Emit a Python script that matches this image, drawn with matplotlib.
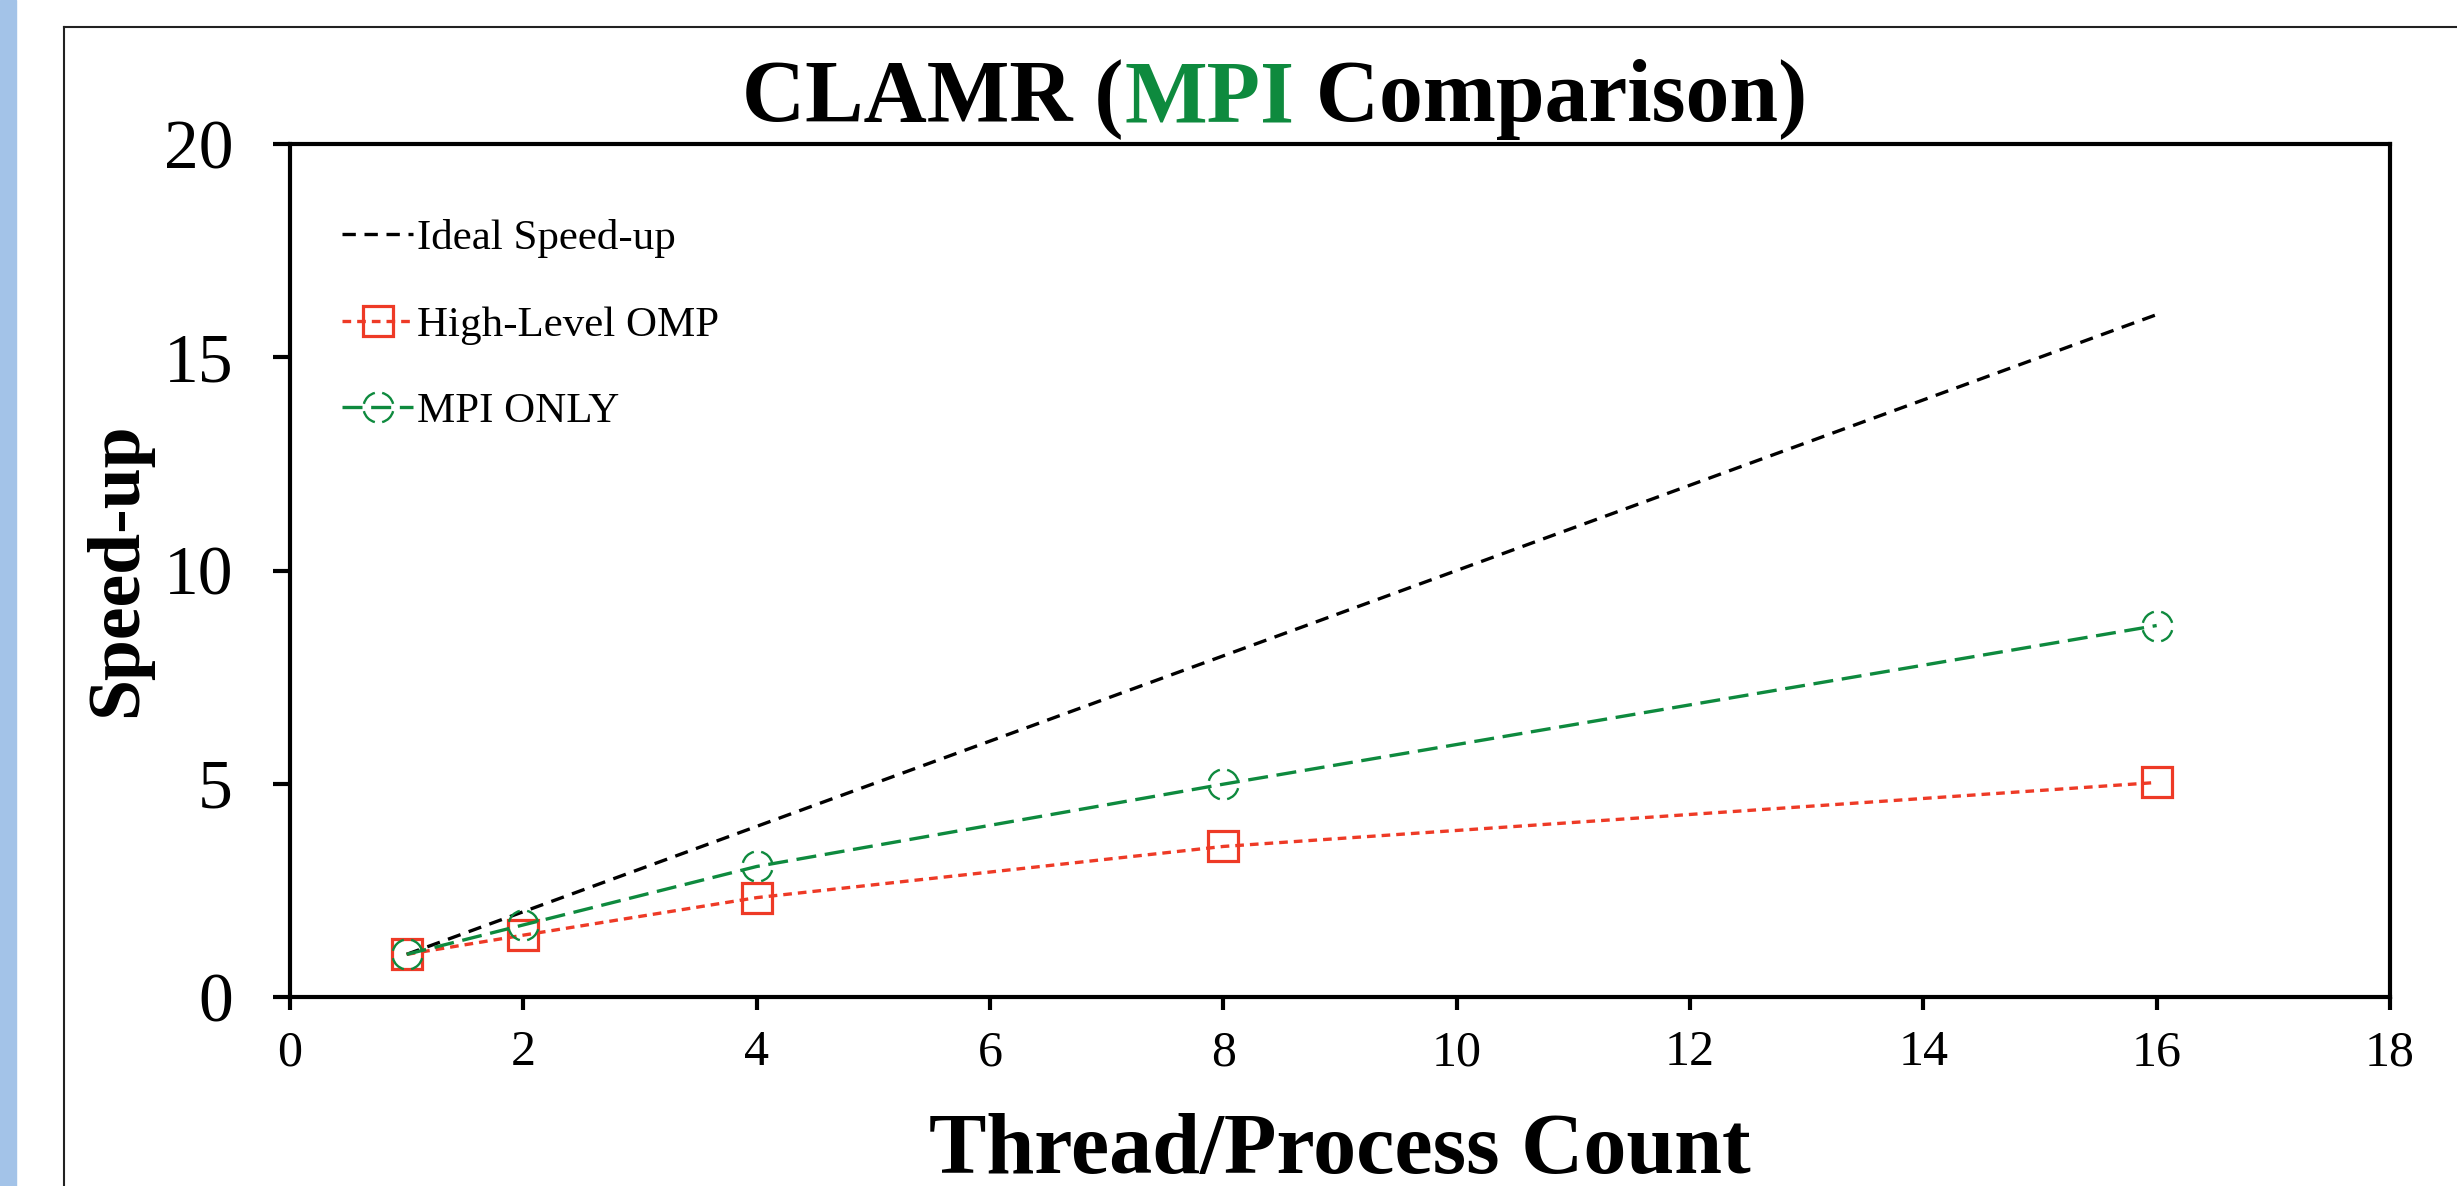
import numpy as np
import matplotlib
matplotlib.use('Agg')
import matplotlib.pyplot as plt
from matplotlib.path import Path
from matplotlib.patches import Rectangle
from matplotlib.lines import Line2D

# data
threads = [1, 2, 4, 8, 16]
ideal = [1, 2, 4, 8, 16]
omp_speedup = [1.0, 1.45, 2.33, 3.53, 5.03]
mpi_speedup = [1.0, 1.69, 3.06, 4.99, 8.71]
labels = ['Ideal Speed-up', 'High-Level OMP', 'MPI ONLY']

RED = '#ee3a26'
GREEN = '#0e8a3e'

plt.rcParams['font.family'] = ['Liberation Serif', 'DejaVu Serif']

W, H = 2457, 1186
fig = plt.figure(figsize=(W / 100, H / 100), dpi=100)

# axes box in pixels: left 290, right 2390, top 144, bottom 997
ax = fig.add_axes([290 / W, 1 - 997 / H, 2100 / W, 853 / H])

# dashed-outline circle marker (Excel style)
arcs = [Path.arc(a, a + 62) for a in (14, 104, 194, 284)]
dash_circle = Path.make_compound_path(*arcs)

ax.plot(threads, ideal, color='black', lw=2.4, dashes=(4, 2.6),
        label=labels[0], zorder=3)
ax.plot(threads, omp_speedup, color=RED, lw=2.4, dashes=(2.6, 1.8),
        marker='s', markersize=21, markerfacecolor='none',
        markeredgecolor=RED, markeredgewidth=2.3, label=labels[1], zorder=4)
ax.plot(threads, mpi_speedup, color=GREEN, lw=2.4, dashes=(6, 2.6),
        marker=dash_circle, markersize=21, markerfacecolor='none',
        markeredgecolor=GREEN, markeredgewidth=1.7, label=labels[2], zorder=5)

ax.set_xlim(0, 18)
ax.set_ylim(0, 20)
ax.set_xticks(range(0, 19, 2))
ax.set_yticks(range(0, 21, 5))

for s in ax.spines.values():
    s.set_linewidth(3)
ax.tick_params(axis='y', direction='out', length=12, width=3, pad=29,
               labelsize=50)
ax.tick_params(axis='x', direction='out', length=9.5, width=3, pad=14,
               labelsize=36)

leg = ax.legend(loc='upper left', bbox_to_anchor=(0.0248, 0.912),
                frameon=False, fontsize=31, handlelength=1.65,
                handletextpad=0.1, labelspacing=1.1, borderpad=0,
                borderaxespad=0, numpoints=1)

# axis labels
fig.text(1340 / W, 1 - 1173 / H, 'Thread/Process Count', fontsize=62,
         fontweight='bold', ha='center', va='baseline')
fig.text(118 / W, 1 - 570 / H, 'Speed-up', fontsize=53, fontweight='bold',
         rotation=90, ha='center', va='center')

# title with green "MPI"
parts = [('CLAMR (', 'black'), ('MPI', GREEN), (' Comparison)', 'black')]
renderer = fig.canvas.get_renderer()
widths = []
for txt, c in parts:
    t = fig.text(0, 0, txt, fontsize=63, fontweight='bold')
    widths.append(t.get_window_extent(renderer).width)
    t.remove()
x = 1275 - sum(widths) / 2
for (txt, c), w in zip(parts, widths):
    fig.text(x / W, 1 - 121 / H, txt, fontsize=63, fontweight='bold',
             color=c, ha='left', va='baseline')
    x += w

# slide decoration: blue strip and outer frame
fig.add_artist(Rectangle((0, 0), 16 / W, 1, transform=fig.transFigure,
                         color='#a3c3e8', zorder=0))
fig.add_artist(Line2D([64 / W, 64 / W], [0, 1 - 27 / H],
                      transform=fig.transFigure, color='#222222', lw=1.5))
fig.add_artist(Line2D([64 / W, 1], [1 - 27 / H, 1 - 27 / H],
                      transform=fig.transFigure, color='#222222', lw=1.5))

fig.savefig('out.png', dpi=100)
